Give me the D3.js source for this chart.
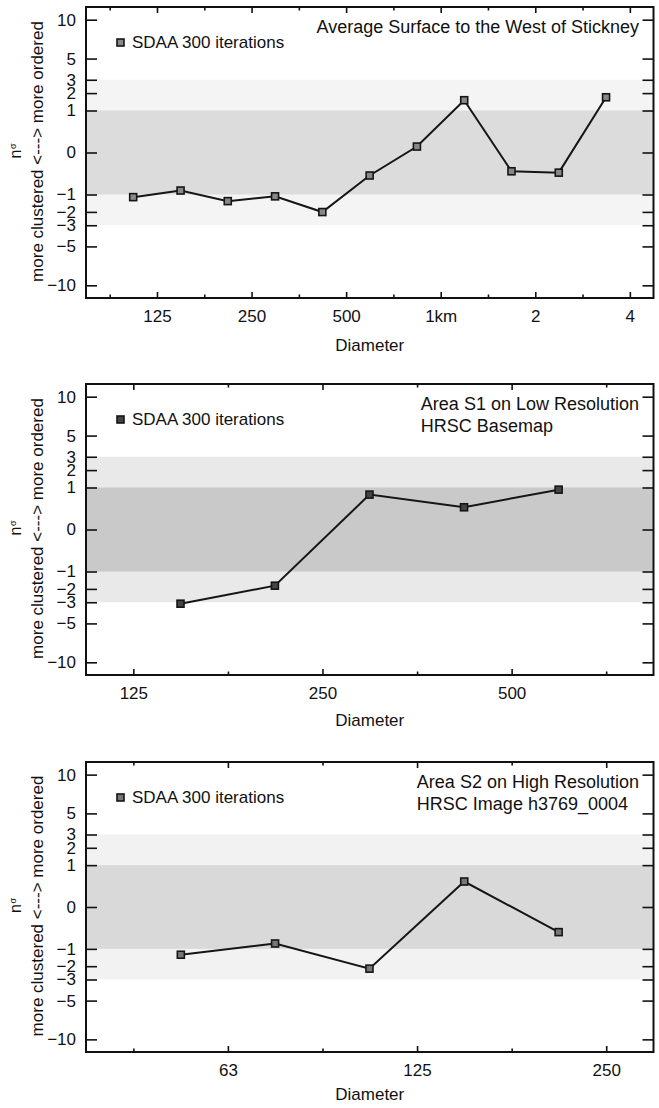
<!DOCTYPE html>
<html>
<head>
<meta charset="utf-8">
<script src="https://cdn.jsdelivr.net/npm/d3@7"></script>
<style>
  body { margin: 0; background: #fff; }
  text { font-family: "Liberation Sans", Arial, Helvetica, sans-serif; fill: #111; }
</style>
</head>
<body>
<svg id="chart" width="659" height="1108"></svg>
<script>
// n_sigma tick values (sqrt-scaled axis)
var yTicks = [10, 5, 3, 2, 1, 0, -1, -2, -3, -5, -10];

// panel 1: average surface west of Stickney
var diam1 = [105, 148.6, 210, 297, 420, 594, 840, 1188, 1680, 2376, 3360];
var nsig1 = [-1.13, -0.82, -1.34, -1.09, -2.01, -0.30, 0.02, 1.55, -0.20, -0.23, 1.73];
var ticks1 = [125, 250, 500, 1000, 2000, 4000];
var labels1 = ["125", "250", "500", "1km", "2", "4"];
var minor1 = [88.4, 176.8, 353.6, 707, 1414, 2828];
var range1 = [74.3, 4757];

// panel 2: area S1, low resolution basemap
var diam2 = [148.6, 210, 297, 420, 594];
var nsig2 = [-3.12, -1.79, 0.69, 0.28, 0.90];
var ticks2 = [125, 250, 500];
var labels2 = ["125", "250", "500"];
var minor2 = [176.8, 353.6, 707];
var range2 = [105.1, 840.9];

// panel 3: area S2, high resolution image
var diam3 = [52.6, 74.3, 105, 148.6, 210];
var nsig3 = [-1.30, -0.76, -2.17, 0.37, -0.36];
var ticks3 = [62.5, 125, 250];
var labels3 = ["63", "125", "250"];
var minor3 = [44.2, 88.4, 176.8];
var range3 = [37.16, 297.3];

var legendText = "SDAA 300 iterations";

var panels = [
  {top: 7, bottom: 298, xs: diam1, ys: nsig1, ticks: ticks1, labels: labels1, minor: minor1, range: range1,
   title: ["Average Surface to the West of Stickney"], band: ["#f4f4f4", "#dcdcdc"], fill: "#888", xlabDy: 53},
  {top: 384, bottom: 675, xs: diam2, ys: nsig2, ticks: ticks2, labels: labels2, minor: minor2, range: range2,
   title: ["Area S1 on Low Resolution", "HRSC Basemap"], band: ["#e9e9e9", "#c9c9c9"], fill: "#444", xlabDy: 51},
  {top: 762, bottom: 1052, xs: diam3, ys: nsig3, ticks: ticks3, labels: labels3, minor: minor3, range: range3,
   title: ["Area S2 on High Resolution", "HRSC Image h3769_0004"], band: ["#f2f2f2", "#d9d9d9"], fill: "#777", xlabDy: 48}
];

var svg = d3.select("#chart");
var left = 86, right = 653.5;

panels.forEach(function(p) {
  var x = d3.scaleLog().base(2).domain(p.range).range([left, right]);
  var y = d3.scalePow().exponent(0.5).domain([-12, 12]).range([p.bottom, p.top]);
  var g = svg.append("g");

  // shaded 1 and 3 sigma bands
  g.append("rect").attr("x", left).attr("width", right - left)
    .attr("y", y(3)).attr("height", y(-3) - y(3)).attr("fill", p.band[0]);
  g.append("rect").attr("x", left).attr("width", right - left)
    .attr("y", y(1)).attr("height", y(-1) - y(1)).attr("fill", p.band[1]);

  var pts = p.xs.map(function(d, i) { return [d, p.ys[i]]; });
  var line = d3.line().x(function(d) { return x(d[0]); }).y(function(d) { return y(d[1]); });
  g.append("path").datum(pts).attr("d", line)
    .attr("fill", "none").attr("stroke", "#151515").attr("stroke-width", 2);
  g.selectAll(".pt").data(pts).enter().append("rect")
    .attr("x", function(d) { return x(d[0]) - 3.5; })
    .attr("y", function(d) { return y(d[1]) - 3.5; })
    .attr("width", 7).attr("height", 7)
    .attr("fill", p.fill).attr("stroke", "#151515").attr("stroke-width", 1.6);

  // axes, ticks pointing inward
  g.append("g").attr("transform", "translate(" + left + ",0)")
    .call(d3.axisLeft(y).tickValues(yTicks).tickSize(-11).tickPadding(10).tickFormat(d3.format("d")));
  g.append("g").attr("transform", "translate(" + right + ",0)")
    .call(d3.axisRight(y).tickValues(yTicks).tickSize(-11).tickFormat(""));
  g.append("g").attr("transform", "translate(0," + p.bottom + ")")
    .call(d3.axisBottom(x).tickValues(p.ticks).tickSize(-6).tickPadding(12)
      .tickFormat(function(d, i) { return p.labels[i]; }));
  g.append("g").attr("transform", "translate(0," + p.bottom + ")")
    .call(d3.axisBottom(x).tickValues(p.minor).tickSize(-3.5).tickFormat(""));
  g.append("g").attr("transform", "translate(0," + p.top + ")")
    .call(d3.axisTop(x).tickValues(p.ticks).tickSize(-6).tickFormat(""));
  g.append("g").attr("transform", "translate(0," + p.top + ")")
    .call(d3.axisTop(x).tickValues(p.minor).tickSize(-3.5).tickFormat(""));
  g.selectAll(".domain").remove();
  g.selectAll(".tick line").attr("stroke", "#111").attr("stroke-width", 1.6);
  g.selectAll(".tick text").attr("font-size", 17).attr("fill", "#111")
    .style("font-family", "'Liberation Sans', Arial, sans-serif");

  g.append("rect").attr("x", left).attr("y", p.top)
    .attr("width", right - left).attr("height", p.bottom - p.top)
    .attr("fill", "none").attr("stroke", "#111").attr("stroke-width", 2);

  // legend
  g.append("rect").attr("x", 117).attr("y", p.top + 32).attr("width", 7).attr("height", 7)
    .attr("fill", p.fill).attr("stroke", "#151515").attr("stroke-width", 1.6);
  g.append("text").attr("x", 132).attr("y", p.top + 41).attr("font-size", 17).text(legendText);

  // title block, right aligned as a block, lines left aligned
  var tl = g.append("g").selectAll("text").data(p.title).enter().append("text")
    .attr("y", function(d, i) { return p.top + 26 + i * 22; })
    .attr("font-size", 18).text(function(d) { return d; });
  var maxW = 0;
  tl.each(function() { maxW = Math.max(maxW, this.getComputedTextLength()); });
  tl.attr("x", 639 - maxW);

  g.append("text").attr("x", (left + right) / 2).attr("y", p.bottom + p.xlabDy)
    .attr("text-anchor", "middle").attr("font-size", 17).text("Diameter");

  var cy = (p.top + p.bottom) / 2;
  g.append("text").attr("transform", "translate(43," + (cy - 1) + ") rotate(-90)")
    .attr("text-anchor", "middle").attr("font-size", 17).text("more clustered <---> more ordered");
  var ng = g.append("text").attr("transform", "translate(21," + (cy + 6) + ") rotate(-90)")
    .attr("font-size", 16);
  ng.append("tspan").text("n");
  ng.append("tspan").attr("font-size", 9).attr("dy", -5).attr("dx", 0.5).text("σ");
});
</script>
</body>
</html>
